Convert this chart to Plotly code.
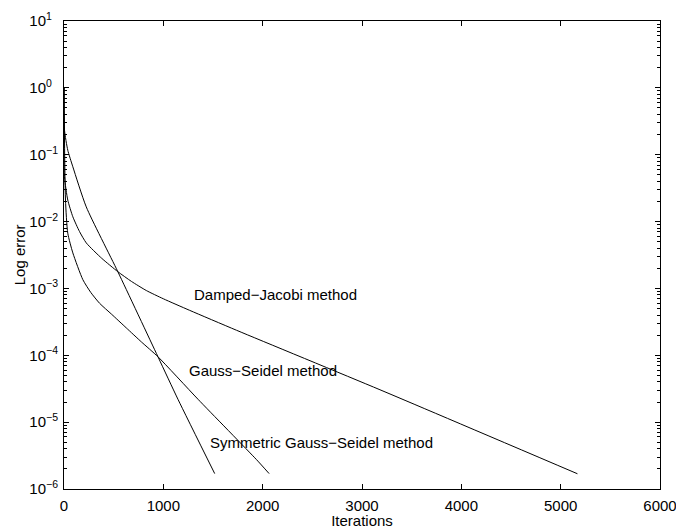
import plotly.graph_objects as go

# Damped-Jacobi method
iters_djac = [0, 5, 38, 89, 156, 224, 380, 542, 680, 829, 1000, 1265, 1736, 3181, 5169]
err_djac = [1.0, 0.047, 0.021, 0.0118, 0.0071, 0.0048, 0.00282, 0.00178, 0.00127,
            0.00093, 0.0007, 0.00047, 0.000237, 3.05e-5, 1.69e-6]

# Gauss-Seidel method
iters_gs = [0, 15, 38, 89, 190, 270, 358, 480, 627, 780, 946, 1349, 1938, 2065]
err_gs = [1.0, 0.021, 0.0067, 0.0034, 0.00135, 0.00087, 0.0006, 0.00041, 0.000257,
          0.000158, 9.5e-5, 2.2e-5, 2.75e-6, 1.7e-6]

# Symmetric Gauss-Seidel method
iters_sgs = [0, 5, 38, 89, 224, 542, 946, 1147, 1517]
err_sgs = [1.0, 0.234, 0.117, 0.066, 0.0166, 0.00178, 9.5e-5, 2.2e-5, 1.7e-6]

# labels: (text, iteration, log10 error)
labels = [
    ("Damped\u2212Jacobi method", 1292, -3.096),
    ("Gauss\u2212Seidel method", 1238, -4.226),
    ("Symmetric Gauss\u2212Seidel method", 1447, -5.306),
]

x_ticks = [0, 1000, 2000, 3000, 4000, 5000, 6000]
y_exps = [-6, -5, -4, -3, -2, -1, 0, 1]

y_tickvals = [10.0 ** e for e in y_exps]
# base "10" kept left-aligned: non-negative exponents get trailing padding
y_ticktext = [
    "10<sup>%s</sup>" % (str(e).replace("-", "\u2212") if e < 0 else str(e) + "\u2002\u200a")
    for e in y_exps
]
y_minor = [k * 10.0 ** e for e in y_exps[:-1] for k in range(2, 10)]

fig = go.Figure()
for xs, ys in [(iters_djac, err_djac), (iters_gs, err_gs), (iters_sgs, err_sgs)]:
    fig.add_trace(go.Scatter(x=xs, y=ys, mode="lines",
                             line=dict(color="black", width=1,
                                       shape="spline", smoothing=0.6)))

for txt, x, y in labels:
    fig.add_annotation(x=x, y=y, text=txt, showarrow=False, xanchor="left",
                       yanchor="middle", font=dict(size=15, color="black"))

# y axis title
fig.add_annotation(text="Log error", xref="paper", yref="paper", x=-0.075, y=0.5,
                   xanchor="center", yanchor="middle", textangle=-90,
                   showarrow=False, font=dict(size=15, color="black"))

font_family = "Liberation Sans, Arial, Helvetica, sans-serif"
fig.update_layout(
    width=676, height=529,
    margin=dict(l=64, r=16, t=21, b=40),
    plot_bgcolor="white", paper_bgcolor="white",
    showlegend=False,
    font=dict(family=font_family, size=15, color="black"),
)
fig.update_xaxes(
    range=[0, 6000], tickmode="array", tickvals=x_ticks,
    ticks="inside", ticklen=5, tickcolor="black", tickwidth=1,
    ticklabelstandoff=3, ticklabeloverflow="allow",
    showline=True, linecolor="black", linewidth=1, mirror="ticks",
    showgrid=False, zeroline=False,
    title=dict(text="Iterations", standoff=5, font=dict(size=15)),
    automargin=False,
)
fig.update_yaxes(
    type="log", range=[-6, 1], tickmode="array",
    tickvals=y_tickvals, ticktext=y_ticktext,
    ticks="inside", ticklen=5, tickcolor="black", tickwidth=1,
    ticklabelstandoff=2, ticklabeloverflow="allow",
    minor=dict(tickmode="array", tickvals=y_minor, ticks="inside",
               ticklen=3, tickcolor="black", tickwidth=1, showgrid=False),
    showline=True, linecolor="black", linewidth=1, mirror="ticks",
    showgrid=False, zeroline=False,
    automargin=False,
)

fig.write_html("out.html")
